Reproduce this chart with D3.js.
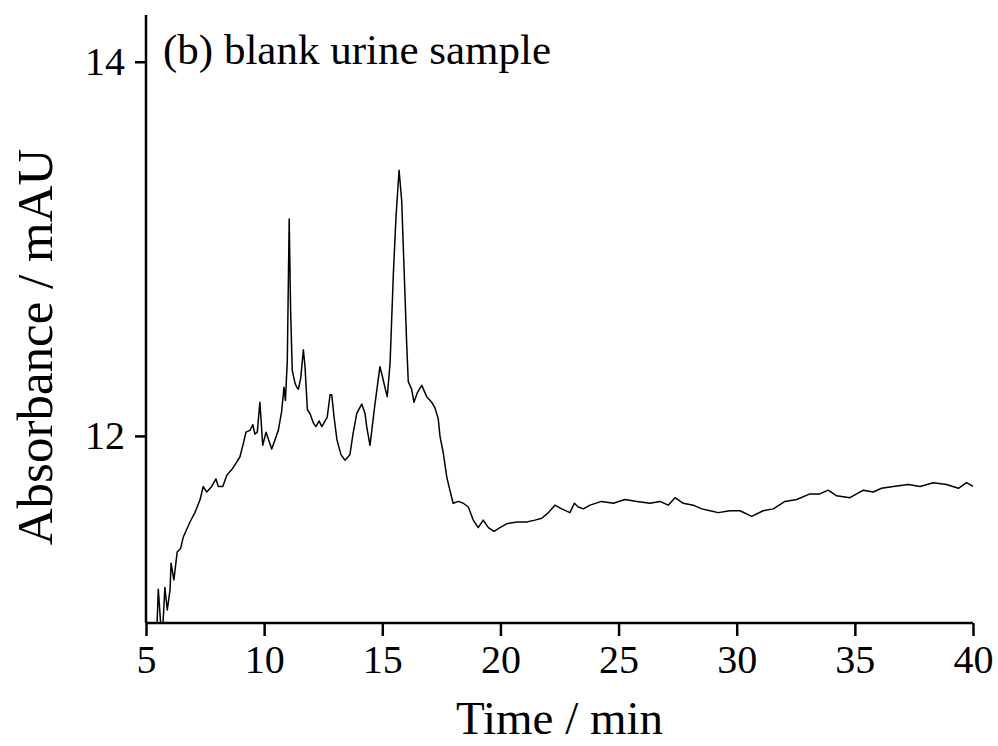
<!DOCTYPE html>
<html>
<head>
<meta charset="utf-8">
<script src="https://cdn.jsdelivr.net/npm/d3@7"></script>
<style>
  body { margin: 0; background: #fff; }
  svg text { font-family: "Liberation Serif", "Times New Roman", serif; fill: #000; }
</style>
</head>
<body>
<svg id="chart" width="998" height="746"></svg>
<script>
// retention time (min) and absorbance (mAU)
var times = [5.47, 5.52, 5.62, 5.72, 5.80, 5.90, 6.02, 6.06, 6.18, 6.32, 6.47, 6.58, 6.72, 6.86,
  7.07, 7.29, 7.42, 7.57, 7.78, 7.96, 8.06, 8.25, 8.42, 8.63, 8.84, 8.98, 9.12, 9.23, 9.40,
  9.52, 9.61, 9.71, 9.82, 9.94, 10.08, 10.32, 10.46, 10.60, 10.74, 10.84, 10.90, 10.98, 11.06,
  11.12, 11.19, 11.31, 11.38, 11.45, 11.55, 11.66, 11.73, 11.83, 11.94, 12.08, 12.19, 12.33,
  12.44, 12.58, 12.67, 12.79, 12.86, 12.96, 13.08, 13.25, 13.42, 13.63, 13.76, 13.92, 14.13,
  14.27, 14.34, 14.48, 14.69, 14.90, 15.02, 15.11, 15.21, 15.33, 15.47, 15.58, 15.71, 15.82,
  15.92, 16.03, 16.10, 16.24, 16.34, 16.48, 16.67, 16.88, 17.09, 17.23, 17.37, 17.44, 17.58,
  17.73, 17.86, 18.00, 18.22, 18.43, 18.64, 18.85, 19.06, 19.27, 19.49, 19.73, 19.98, 20.26,
  20.69, 21.11, 21.46, 21.75, 22.03, 22.31, 22.59, 22.94, 23.13, 23.29, 23.51, 23.79, 24.28,
  24.78, 25.27, 25.77, 26.33, 26.75, 27.10, 27.39, 27.74, 28.16, 28.52, 28.87, 29.22, 29.71,
  30.14, 30.63, 31.12, 31.55, 32.04, 32.54, 33.10, 33.52, 33.87, 34.23, 34.79, 35.36, 35.78,
  36.13, 36.63, 37.26, 37.76, 38.32, 38.88, 39.38, 39.73, 40.00];
var absorb = [11.00, 11.18, 11.00, 11.00, 11.19, 11.07, 11.18, 11.32, 11.23, 11.38, 11.40, 11.46, 11.50, 11.54,
  11.59, 11.66, 11.73, 11.70, 11.73, 11.77, 11.73, 11.73, 11.79, 11.82, 11.86, 11.89, 11.96, 12.02, 12.03,
  12.06, 12.01, 12.02, 12.18, 11.95, 12.02, 11.93, 11.98, 12.03, 12.13, 12.26, 12.19, 12.40, 13.16,
  12.67, 12.35, 12.28, 12.26, 12.25, 12.31, 12.46, 12.37, 12.14, 12.12, 12.07, 12.05, 12.08,
  12.05, 12.08, 12.10, 12.22, 12.22, 12.10, 11.98, 11.90, 11.87, 11.90, 12.01, 12.12, 12.17,
  12.12, 12.05, 11.95, 12.17, 12.37, 12.31, 12.26, 12.21, 12.39, 12.87, 13.17, 13.42, 13.26,
  12.90, 12.50, 12.29, 12.25, 12.18, 12.23, 12.27, 12.21, 12.18, 12.15, 12.09, 12.00, 11.91,
  11.78, 11.71, 11.64, 11.65, 11.64, 11.62, 11.55, 11.51, 11.55, 11.51, 11.49, 11.51, 11.53,
  11.54, 11.54, 11.55, 11.56, 11.59, 11.63, 11.61, 11.59, 11.64, 11.62, 11.61, 11.63, 11.65,
  11.64, 11.66, 11.65, 11.64, 11.65, 11.63, 11.67, 11.64, 11.63, 11.61, 11.60, 11.59, 11.60,
  11.60, 11.57, 11.60, 11.61, 11.65, 11.66, 11.69, 11.69, 11.71, 11.68, 11.67, 11.71, 11.70,
  11.72, 11.73, 11.74, 11.73, 11.75, 11.74, 11.72, 11.75, 11.73];

var xTicks = [5, 10, 15, 20, 25, 30, 35, 40];
var xMinor = [7.5, 12.5, 17.5, 22.5, 27.5, 32.5, 37.5];
var yTicks = [12, 14];
var yMinor = [11, 13];

var label = "(b) blank urine sample";
var xTitle = "Time / min";
var yTitle = "Absorbance / mAU";

var svg = d3.select("#chart");
var margin = {left: 146, right: 25, top: 15, bottom: 123};
var W = 998, H = 746;

var x = d3.scaleLinear().domain([5, 40]).range([margin.left, W - margin.right]);
var y = d3.scaleLinear().domain([11, 14.25]).range([H - margin.bottom, margin.top]);

var data = times.map(function(t, i) { return [t, absorb[i]]; });

svg.append("defs").append("clipPath").attr("id", "clip")
  .append("rect")
  .attr("x", margin.left).attr("y", margin.top)
  .attr("width", W - margin.left - margin.right)
  .attr("height", H - margin.top - margin.bottom);

var line = d3.line()
  .x(function(d) { return x(d[0]); })
  .y(function(d) { return y(d[1]); });

svg.append("path")
  .datum(data)
  .attr("clip-path", "url(#clip)")
  .attr("fill", "none")
  .attr("stroke", "#000")
  .attr("stroke-width", 1.5)
  .attr("stroke-linejoin", "round")
  .attr("d", line);

// x axis
var gx = svg.append("g").attr("transform", "translate(0," + (H - margin.bottom) + ")");
gx.call(d3.axisBottom(x).tickValues(xMinor).tickSize(7).tickFormat(""));
gx.call(d3.axisBottom(x).tickValues(xTicks).tickSize(13).tickFormat(d3.format("d")));
gx.selectAll("line").attr("stroke-width", 2.5);
gx.selectAll("text").attr("font-size", 40).attr("y", 50).attr("dy", 0);

// y axis
var gy = svg.append("g").attr("transform", "translate(" + margin.left + ",0)");
gy.call(d3.axisLeft(y).tickValues(yMinor).tickSize(7).tickFormat(""));
gy.call(d3.axisLeft(y).tickValues(yTicks).tickSize(11).tickPadding(10).tickFormat(d3.format("d")));
gy.selectAll("line").attr("stroke-width", 2.5);
gy.selectAll("text").attr("font-size", 40);

svg.selectAll(".domain").remove();
// plain axis lines without end caps
svg.append("line")
  .attr("x1", margin.left).attr("x2", W - margin.right)
  .attr("y1", H - margin.bottom).attr("y2", H - margin.bottom)
  .attr("stroke", "#000").attr("stroke-width", 2.5);
svg.append("line")
  .attr("x1", margin.left).attr("x2", margin.left)
  .attr("y1", margin.top).attr("y2", H - margin.bottom)
  .attr("stroke", "#000").attr("stroke-width", 2.5);

svg.append("text")
  .attr("x", (margin.left + W - margin.right) / 2)
  .attr("y", 734)
  .attr("text-anchor", "middle")
  .attr("font-size", 47)
  .text(xTitle);

svg.append("text")
  .attr("transform", "translate(52,347) rotate(-90)")
  .attr("text-anchor", "middle")
  .attr("font-size", 51)
  .text(yTitle);

svg.append("text")
  .attr("x", 163)
  .attr("y", 64)
  .attr("font-size", 43)
  .text(label);
</script>
</body>
</html>
